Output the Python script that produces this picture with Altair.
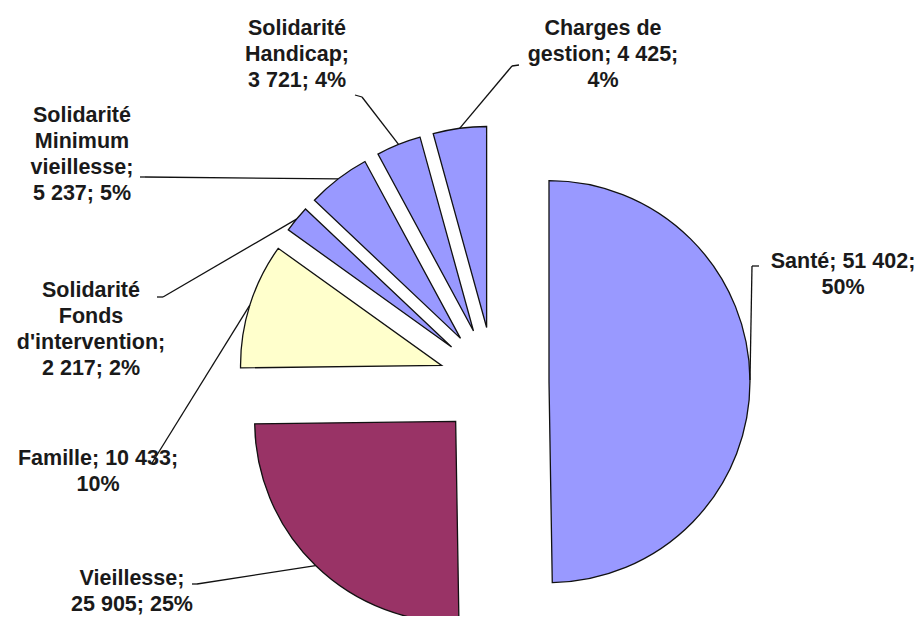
import altair as alt
import pandas as pd

# --- data ---
categories = ["Santé", "Vieillesse", "Famille", "Solidarité Fonds d'intervention",
              "Solidarité Minimum vieillesse", "Solidarité Handicap", "Charges de gestion"]
values = [51402, 25905, 10433, 2217, 5237, 3721, 4425]
label_lines = [
    ["Santé; 51 402;", "50%"],
    ["Vieillesse;", "25 905; 25%"],
    ["Famille; 10 433;", "10%"],
    ["Solidarité", "Fonds", "d'intervention;", "2 217; 2%"],
    ["Solidarité", "Minimum", "vieillesse;", "5 237; 5%"],
    ["Solidarité", "Handicap;", "3 721; 4%"],
    ["Charges de", "gestion; 4 425;", "4%"],
]
colors = ["#9999FF", "#993366", "#FFFFCC", "#9999FF", "#9999FF", "#9999FF", "#9999FF"]

# --- layout (pixel positions of labels and leader elbows) ---
label_x = [835, 124, 90, 83, 74, 289, 595]
label_y = [260, 577, 457, 289, 114, 27, 27]
elbow_x = [744, 189, 144, 155, 137, 354, 504]
elbow_y = [258, 576, 455, 289, 169, 89, 58]
tail_x = [751, 184, 144, 149, 132, 347, 511]
tail_y = [258, 576, 455, 289, 169, 87, 57]

CX, CY, EXPLODE, R = 486, 374, 55, 201

df = pd.DataFrame({
    "order": list(range(len(categories))),
    "category": categories,
    "value": values,
    "lines": label_lines,
    "lx": label_x, "ly": label_y,
    "ex": elbow_x, "ey": elbow_y,
    "tx": tail_x, "ty": tail_y,
})

base = alt.Chart(df).transform_window(
    cum="sum(value)", frame=[None, 0], sort=[alt.SortField("order")]
).transform_joinaggregate(
    total="sum(value)"
).transform_calculate(
    t0="(datum.cum - datum.value) / datum.total * 2 * PI",
    t1="datum.cum / datum.total * 2 * PI",
).transform_calculate(
    mid="(datum.t0 + datum.t1) / 2",
).transform_calculate(
    cx=f"{CX} + {EXPLODE} * sin(datum.mid)",
    cy=f"{CY} - {EXPLODE} * cos(datum.mid)",
).transform_calculate(
    ax=f"datum.cx + {R} * sin(datum.mid)",
    ay=f"datum.cy - {R} * cos(datum.mid)",
)

arcs = base.mark_arc(stroke="#111111", strokeWidth=1.3, outerRadius=R).encode(
    x=alt.X("cx:Q", scale=None),
    y=alt.Y("cy:Q", scale=None),
    theta=alt.Theta("t0:Q", scale=None),
    theta2="t1:Q",
    color=alt.Color("category:N", scale=alt.Scale(domain=categories, range=colors), legend=None),
)

lead1 = base.mark_rule(color="#111111", strokeWidth=1.3).encode(
    x=alt.X("ax:Q", scale=None), y=alt.Y("ay:Q", scale=None),
    x2="ex:Q", y2="ey:Q",
)
lead2 = base.mark_rule(color="#111111", strokeWidth=1.3).encode(
    x=alt.X("ex:Q", scale=None), y=alt.Y("ey:Q", scale=None),
    x2="tx:Q", y2="ty:Q",
)

labels = base.mark_text(
    align="center", baseline="alphabetic", font="Liberation Sans",
    fontSize=21.5, fontWeight="bold", lineHeight=26, color="#1a1a1a",
).encode(
    x=alt.X("lx:Q", scale=None), y=alt.Y("ly:Q", scale=None),
    text=alt.Text("lines"),
)

chart = alt.layer(arcs, lead1, lead2, labels).properties(
    width=907, height=608, autosize="none", padding=0,
).configure_view(stroke=None)

chart.save("out.html", embed_options={"renderer": "svg", "actions": False})
